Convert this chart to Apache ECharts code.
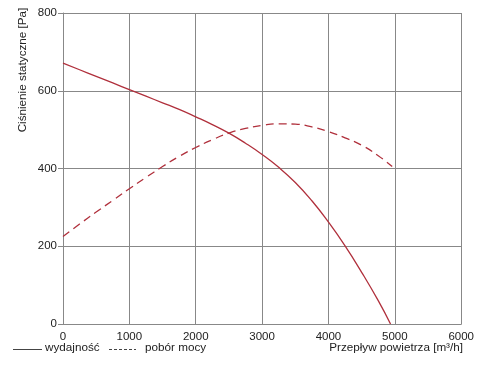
<!DOCTYPE html>
<html>
<head>
<meta charset="utf-8">
<script src="https://cdn.jsdelivr.net/npm/echarts@6/dist/echarts.min.js"></script>
<style>html,body{margin:0;padding:0;background:#fff;}#c{width:477px;height:366px;}</style>
</head>
<body>
<div id="c"></div>
<script>
const flowWyd = [0, 250, 500, 750, 1000, 1250, 1500, 1750, 2000, 2250, 2500, 2750, 3000, 3250, 3500, 3750, 4000, 4250, 4500, 4750, 4935];
const presWyd = [671, 654, 637, 620, 603, 586, 569, 552, 533, 513, 491, 465, 436, 403, 364, 317, 262, 201, 133, 60, 0];
const flowPob = [0, 250, 500, 750, 1000, 1250, 1500, 1750, 2000, 2250, 2500, 2750, 3000, 3250, 3500, 3750, 4000, 4250, 4500, 4750, 4960];
const presPob = [225, 257, 288, 318, 348, 377, 405, 431, 454, 474, 491, 503, 511, 515, 514, 507, 495, 479, 460, 433, 405];
const xTicks = [0, 1000, 2000, 3000, 4000, 5000, 6000];
const yTicks = [0, 200, 400, 600, 800];
const legendNames = ['wydajność', 'pobór mocy'];
const xName = 'Przepływ powietrza [m³/h]';
const yName = 'Ciśnienie statyczne [Pa]';

const red = '#b0303c';
const font = 'Liberation Sans, Arial, sans-serif';
const pairs = (xs, ys) => xs.map((x, i) => [x, ys[i]]);

const chart = echarts.init(document.getElementById('c'), null, {renderer: 'canvas'});
chart.setOption({
  animation: false,
  backgroundColor: '#fff',
  grid: {left: 63, top: 13, right: 15, bottom: 42, show: false},
  xAxis: {
    type: 'value', min: xTicks[0], max: xTicks[xTicks.length - 1], interval: 1000,
    axisLine: {show: true, lineStyle: {color: '#888', width: 1}},
    axisTick: {show: false},
    splitLine: {show: true, lineStyle: {color: '#888', width: 1}},
    axisLabel: {color: '#222', fontFamily: font, fontSize: 11.5, margin: 7, formatter: v => String(v)}
  },
  yAxis: {
    type: 'value', min: yTicks[0], max: yTicks[yTicks.length - 1], interval: 200,
    axisLine: {show: true, lineStyle: {color: '#888', width: 1}},
    axisTick: {show: true, length: 5, lineStyle: {color: '#888'}},
    splitLine: {show: true, lineStyle: {color: '#888', width: 1}},
    axisLabel: {color: '#222', fontFamily: font, fontSize: 11.5, margin: 6, formatter: v => String(v)}
  },
  series: [
    {name: legendNames[0], type: 'line', data: pairs(flowWyd, presWyd), smooth: 0.5, symbol: 'none',
     lineStyle: {color: red, width: 1.3}},
    {name: legendNames[1], type: 'line', data: pairs(flowPob, presPob), smooth: 0.5, symbol: 'none',
     lineStyle: {color: red, width: 1.3, type: [8, 5]}}
  ],
  graphic: [
    {type: 'line', shape: {x1: 13, y1: 349.5, x2: 42, y2: 349.5}, style: {stroke: '#444', lineWidth: 1}},
    {type: 'text', left: 45, top: 342, style: {text: legendNames[0], font: '11.7px ' + font, fill: '#222'}},
    {type: 'line', shape: {x1: 109, y1: 349.5, x2: 136, y2: 349.5}, style: {stroke: '#444', lineWidth: 1, lineDash: [3, 2]}},
    {type: 'text', left: 145, top: 342, style: {text: legendNames[1], font: '11.7px ' + font, fill: '#222'}},
    {type: 'text', right: 14, top: 342, style: {text: xName, font: '11.7px ' + font, fill: '#222'}},
    {type: 'text', x: 17, y: 70, rotation: Math.PI / 2, style: {text: yName, font: '11.7px ' + font, fill: '#222', align: 'center', verticalAlign: 'top'}}
  ]
});
</script>
</body>
</html>
